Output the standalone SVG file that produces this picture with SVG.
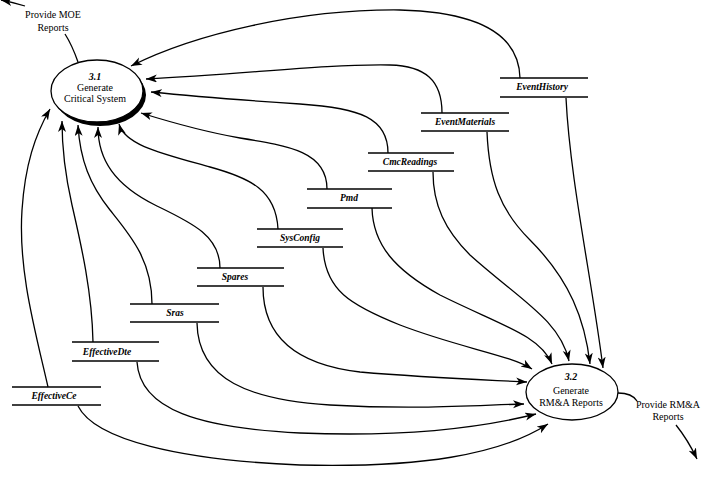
<svg xmlns="http://www.w3.org/2000/svg" width="724" height="482" viewBox="0 0 724 482">
<style>
.c{fill:none;stroke:#000;stroke-width:1.3}
.a{marker-end:url(#ah)}
.s{stroke:#000;stroke-width:1.5}
.sl{font-family:"Liberation Serif",serif;font-style:italic;font-weight:bold;font-size:9.5px;text-anchor:middle}
.t{font-family:"Liberation Serif",serif;font-size:10px;text-anchor:middle}
.n{font-family:"Liberation Serif",serif;font-style:italic;font-weight:bold;font-size:10px;text-anchor:middle}
</style>
<defs>
<marker id="ah" markerUnits="userSpaceOnUse" markerWidth="12" markerHeight="9" refX="11" refY="4" orient="auto">
<path d="M0,0 L11,4 L0,8 L3,4 z" fill="#000"/>
</marker>
</defs>
<rect width="724" height="482" fill="#fff"/>
<g id="connectors">
<path class="c a" d="M520,78 C519,35 480,12 400,10 C300,9 195,34 131,66"/>
<path class="c a" d="M442,113 C442,80 425,66 390,65 C320,64 250,74 146,79"/>
<path class="c a" d="M388,153 C388,118 360,108 300,104 C240,100 190,96 151,92"/>
<path class="c a" d="M327,189 C327,152 290,146 240,138 C200,131 170,122 141,113"/>
<path class="c a" d="M278,229 C276,190 250,178 210,167 C160,153 125,145 119,124"/>
<path class="c a" d="M220,268 C220,235 190,222 155,205 C115,185 98,160 98,127"/>
<path class="c a" d="M152,304 C152,260 130,235 110,210 C90,185 80,160 78,125"/>
<path class="c a" d="M93,342 C92,290 80,240 72,205 C64,170 62,145 62,121"/>
<path class="c a" d="M48,387 C35,330 18,270 22,210 C25,165 35,135 50,109"/>
<path class="c a" d="M566,98 C570,180 592,280 603,368"/>
<path class="c a" d="M487,132 C489,180 500,210 530,240 C570,280 585,320 590,364"/>
<path class="c a" d="M433,172 C433,205 445,230 470,255 C520,300 560,320 569,361"/>
<path class="c a" d="M372,208 C373,245 395,270 440,295 C500,325 540,335 552,364"/>
<path class="c a" d="M323,248 C325,290 350,305 400,325 C460,348 510,355 532,369"/>
<path class="c a" d="M263,287 C263,340 300,365 360,372 C430,378 490,380 527,382"/>
<path class="c a" d="M197,323 C198,380 250,400 330,405 C420,410 480,405 524,404"/>
<path class="c a" d="M137,362 C140,410 200,428 300,433 C400,437 480,428 536,414"/>
<path class="c a" d="M78,406 C95,440 180,460 300,465 C420,468 500,455 548,424"/>
<path class="c" d="M78,62 Q72,45 65,34"/>
<path class="c a" d="M25,6 Q12,2 1,0"/>
<path class="c" d="M618,393 Q632,393 637,401"/>
<path class="c a" d="M676,425 Q688,440 697,459"/>
</g>
<g id="p31">
<ellipse cx="100" cy="95" rx="46" ry="31" fill="#000"/>
<ellipse cx="97" cy="91" rx="46" ry="31" fill="#fff" stroke="#000" stroke-width="1.3"/>
<text class="n" x="95" y="80">3.1</text>
<text class="t" x="95" y="91">Generate</text>
<text class="t" x="95" y="102">Critical System</text>
</g>
<g id="p32">
<ellipse cx="572" cy="392" rx="46" ry="28" fill="#fff" stroke="#000" stroke-width="1.3"/>
<text class="n" x="571" y="380">3.2</text>
<text class="t" x="571" y="394">Generate</text>
<text class="t" x="571" y="406">RM&amp;A Reports</text>
</g>
<g id="moe">
<text class="t" x="53" y="18">Provide MOE</text>
<text class="t" x="53" y="31">Reports</text>
</g>
<g id="rma">
<text class="t" x="668" y="408">Provide RM&amp;A</text>
<text class="t" x="668" y="420">Reports</text>
</g>
<g id="EventHistory"><line class="s" x1="500" y1="78" x2="588" y2="78"/><line class="s" x1="500" y1="97" x2="588" y2="97"/><text class="sl" x="542" y="90">EventHistory</text></g>
<g id="EventMaterials"><line class="s" x1="421" y1="113" x2="509" y2="113"/><line class="s" x1="421" y1="131" x2="509" y2="131"/><text class="sl" x="465" y="125">EventMaterials</text></g>
<g id="CmcReadings"><line class="s" x1="368" y1="153" x2="454" y2="153"/><line class="s" x1="368" y1="171" x2="454" y2="171"/><text class="sl" x="410" y="165">CmcReadings</text></g>
<g id="Pmd"><line class="s" x1="307" y1="189" x2="392" y2="189"/><line class="s" x1="307" y1="208" x2="392" y2="208"/><text class="sl" x="349" y="201">Pmd</text></g>
<g id="SysConfig"><line class="s" x1="257" y1="229" x2="343" y2="229"/><line class="s" x1="257" y1="247" x2="343" y2="247"/><text class="sl" x="300" y="241">SysConfig</text></g>
<g id="Spares"><line class="s" x1="197" y1="268" x2="284" y2="268"/><line class="s" x1="197" y1="286" x2="284" y2="286"/><text class="sl" x="235" y="280">Spares</text></g>
<g id="Sras"><line class="s" x1="130" y1="304" x2="219" y2="304"/><line class="s" x1="130" y1="322" x2="219" y2="322"/><text class="sl" x="175" y="316">Sras</text></g>
<g id="EffectiveDte"><line class="s" x1="72" y1="342" x2="159" y2="342"/><line class="s" x1="72" y1="361" x2="159" y2="361"/><text class="sl" x="107" y="355">EffectiveDte</text></g>
<g id="EffectiveCe"><line class="s" x1="12" y1="387" x2="101" y2="387"/><line class="s" x1="12" y1="405" x2="101" y2="405"/><text class="sl" x="54" y="399">EffectiveCe</text></g>
</svg>
